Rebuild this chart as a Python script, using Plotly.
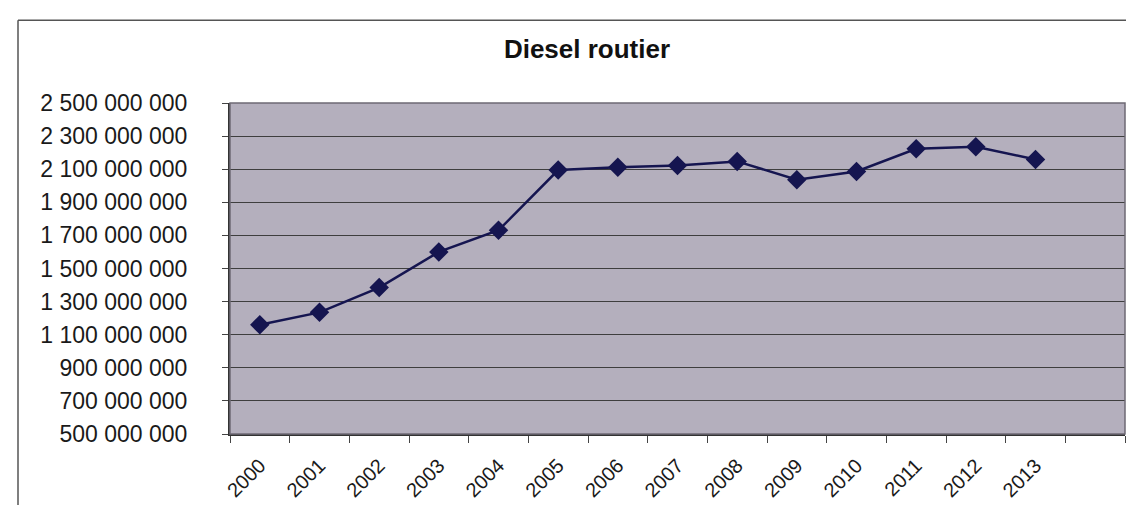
import plotly.graph_objects as go

years = ["2000", "2001", "2002", "2003", "2004", "2005", "2006",
         "2007", "2008", "2009", "2010", "2011", "2012", "2013"]
values = [1160e6, 1235e6, 1385e6, 1600e6, 1731e6, 2095e6, 2112e6,
          2122e6, 2147e6, 2036e6, 2086e6, 2223e6, 2235e6, 2159e6]
y_ticks = [500e6, 700e6, 900e6, 1100e6, 1300e6, 1500e6, 1700e6,
           1900e6, 2100e6, 2300e6, 2500e6]
title_text = "Diesel routier"

n_slots = len(years) + 1  # Excel leaves one empty category slot at the end
xpos = list(range(len(years)))

navy = "#151550"
font_family = "Liberation Sans, Arial, sans-serif"

fig = go.Figure()
fig.add_trace(go.Scatter(
    x=xpos, y=values, mode="lines+markers",
    line=dict(color=navy, width=2.5),
    marker=dict(symbol="diamond", size=15, color=navy),
    showlegend=False, hoverinfo="skip",
))

W, H = 1134, 505
L, R, T, B = 222, 17, 95, 74
pw, ph = W - L - R, H - T - B

def px_to_paper_x(px):
    return (px - L) / pw

def px_to_paper_y(py):
    return (H - B - py) / ph

fig.update_layout(
    width=W, height=H,
    margin=dict(l=L, r=R, t=T, b=B, pad=0),
    paper_bgcolor="white",
    plot_bgcolor="#b4afbd",
    separators=", ",
    font=dict(family=font_family, color="#1a1a1a"),
    title=dict(
        text=title_text, x=579 / W, xref="container", xanchor="center",
        y=1 - 41 / H, yref="container", yanchor="middle",
        font=dict(size=26, family=font_family, color="#111111", weight="bold"),
    ),
    xaxis=dict(
        range=[-0.5, n_slots - 0.5],
        tickmode="array", tickvals=xpos, ticktext=years,
        tickangle=-45, ticks="", showgrid=False, zeroline=False,
        showline=True, linecolor="#333333", linewidth=2,
        tickfont=dict(size=20, family=font_family, color="#1a1a1a"),
        ticklabelstandoff=10,
        minor=dict(tickmode="array",
                   tickvals=[i - 0.5 for i in range(n_slots + 1)],
                   ticks="outside", ticklen=7, tickwidth=1.2,
                   tickcolor="#444444", showgrid=False),
        fixedrange=True,
    ),
    yaxis=dict(
        range=[500e6, 2500e6],
        tickmode="array", tickvals=y_ticks, tickformat=",d",
        ticks="outside", ticklen=6, tickwidth=1.2, tickcolor="#444444",
        showgrid=True, gridcolor="#3e3e3e", gridwidth=1,
        zeroline=False,
        showline=True, linecolor="#333333", linewidth=2,
        tickfont=dict(size=23, family=font_family, color="#1a1a1a"),
        ticklabelstandoff=30,
        fixedrange=True,
    ),
    shapes=[
        # plot-area frame (top and right in grey)
        dict(type="rect", xref="paper", yref="paper", x0=0, x1=1, y0=0, y1=1,
             line=dict(color="#6e6a74", width=1.5), layer="above"),
        # outer chart border (top and left visible)
        dict(type="line", xref="paper", yref="paper",
             x0=px_to_paper_x(10), x1=px_to_paper_x(W + 5),
             y0=px_to_paper_y(11), y1=px_to_paper_y(11),
             line=dict(color="#555555", width=1.5)),
        dict(type="line", xref="paper", yref="paper",
             x0=px_to_paper_x(10), x1=px_to_paper_x(10),
             y0=px_to_paper_y(11), y1=px_to_paper_y(H + 5),
             line=dict(color="#555555", width=1.5)),
    ],
)

fig.write_html("out.html")
